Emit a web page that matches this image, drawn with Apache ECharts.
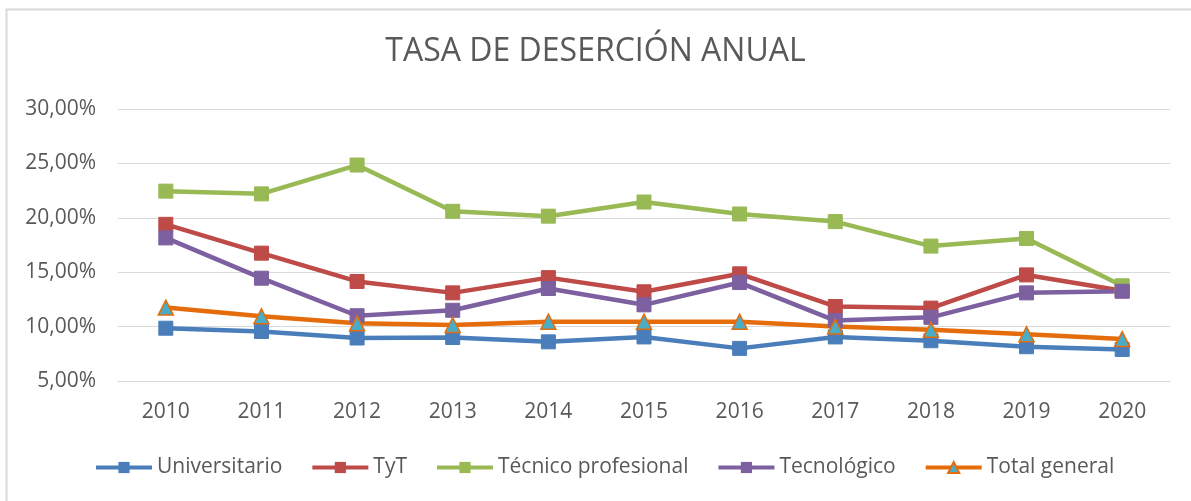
<!DOCTYPE html>
<html>
<head>
<meta charset="utf-8">
<script src="https://cdn.jsdelivr.net/npm/echarts@6/dist/echarts.min.js"></script>
<style>
html,body{margin:0;padding:0;background:#fff;}
#chart{width:1191px;height:501px;}
</style>
</head>
<body>
<div id="chart"></div>
<script>
const years = ['2010','2011','2012','2013','2014','2015','2016','2017','2018','2019','2020'];
const universitario = [9.85, 9.55, 8.95, 9.0, 8.6, 9.05, 8.0, 9.05, 8.7, 8.15, 7.9];
const tyt = [19.4, 16.75, 14.15, 13.1, 14.5, 13.2, 14.85, 11.85, 11.7, 14.75, 13.3];
const tecnicoProfesional = [22.45, 22.2, 24.85, 20.6, 20.15, 21.45, 20.35, 19.65, 17.4, 18.1, 13.75];
const tecnologico = [18.15, 14.45, 11.0, 11.5, 13.5, 12.0, 14.05, 10.55, 10.85, 13.1, 13.25];
const totalGeneral = [11.75, 10.95, 10.3, 10.15, 10.45, 10.45, 10.45, 10.0, 9.7, 9.3, 8.85];
const seriesNames = ['Universitario','TyT','Técnico profesional','Tecnológico','Total general'];
const titleText = 'TASA DE DESERCIÓN ANUAL';

const FONT = '"Open Sans", sans-serif';
const chart = echarts.init(document.getElementById('chart'));

function sq(name, data, color) {
  return {
    name, type: 'line', data,
    symbol: 'rect', symbolSize: 14,
    lineStyle: {width: 4.5, color},
    itemStyle: {color, borderColor: color},
    emphasis: {disabled: true}
  };
}

chart.setOption({
  animation: false,
  textStyle: {fontFamily: FONT},
  title: {
    text: titleText, left: 'center', top: 31,
    textStyle: {fontFamily: FONT, fontSize: 32, fontWeight: 'normal', color: '#595959'}
  },
  graphic: [{
    type: 'rect', shape: {x: 6.5, y: 9.5, width: 1200, height: 600},
    style: {fill: 'none', stroke: '#d9d9d9', lineWidth: 2}, silent: true
  }],
  legend: {
    data: seriesNames, left: 89, top: 452,
    itemWidth: 56, itemHeight: 14, itemGap: 28,
    lineStyle: {width: 4},
    textStyle: {fontFamily: FONT, fontSize: 21, color: '#595959'}
  },
  grid: {left: 118, right: 21, top: 109, bottom: 120, containLabel: false},
  xAxis: {
    type: 'category', data: years, boundaryGap: true,
    axisLine: {show: true, lineStyle: {color: '#d9d9d9', width: 1}},
    axisTick: {show: false},
    axisLabel: {fontFamily: FONT, fontSize: 21, color: '#595959', margin: 21}
  },
  yAxis: {
    type: 'value', min: 5, max: 30, interval: 5,
    axisLine: {show: false}, axisTick: {show: false},
    splitLine: {lineStyle: {color: '#d9d9d9', width: 1}},
    axisLabel: {
      fontFamily: FONT, fontSize: 21, color: '#595959', margin: 22,
      formatter: v => v.toFixed(2).replace('.', ',') + '%'
    }
  },
  series: [
    sq(seriesNames[0], universitario, '#4A7EBB'),
    sq(seriesNames[1], tyt, '#BE4B48'),
    sq(seriesNames[2], tecnicoProfesional, '#98B954'),
    sq(seriesNames[3], tecnologico, '#7D60A0'),
    {
      name: seriesNames[4], type: 'line', data: totalGeneral,
      symbol: 'triangle', symbolSize: 15,
      lineStyle: {width: 4.5, color: '#E46C0A'},
      itemStyle: {color: '#4BACC6', borderColor: '#E46C0A', borderWidth: 1.5},
      emphasis: {disabled: true}
    }
  ]
});
</script>
</body>
</html>
